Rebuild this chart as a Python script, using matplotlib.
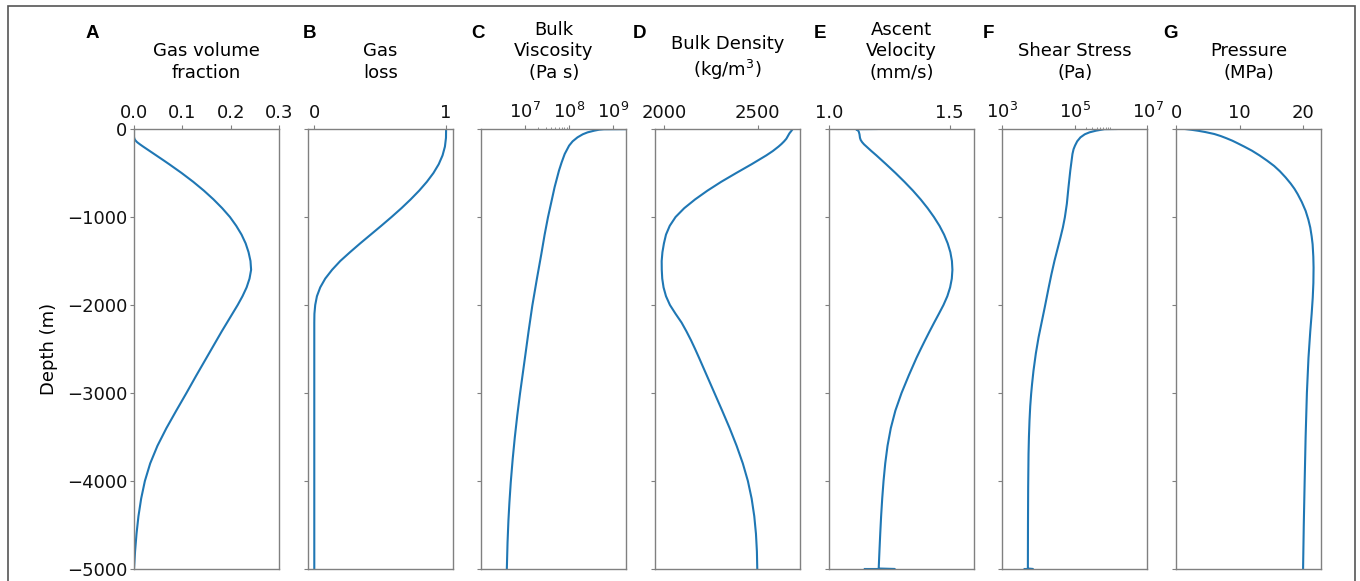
import matplotlib
matplotlib.use("Agg")
import matplotlib.pyplot as plt
import numpy as np
from matplotlib.patches import Rectangle

LINE_COLOR = "#1f77b4"
SPINE_COLOR = "#808080"
FONT_SIZE = 13

# ---- data (depth in m) ----
gas_depth = [0, -90, -110, -130, -150, -175, -200, -250, -300, -350, -400, -500, -600,
             -700, -800, -900, -1000, -1100, -1200, -1300, -1400, -1500, -1600,
             -1700, -1800, -1900, -2000, -2100, -2200, -2300, -2400, -2600, -2800,
             -3000, -3200, -3400, -3600, -3800, -4000, -4200, -4400, -4600, -4800, -5000]
gas_fraction = [0.0, 0.0, 0.0008, 0.003, 0.0065, 0.0125, 0.019, 0.0325, 0.046, 0.0595, 0.0728,
                0.0985, 0.1225, 0.1445, 0.1645, 0.1825, 0.1985, 0.2115, 0.2225, 0.231, 0.237,
                0.241, 0.2423, 0.239, 0.233, 0.2245, 0.2145, 0.2035, 0.1925, 0.1815, 0.171,
                0.150, 0.129, 0.1085, 0.0875, 0.067, 0.0485, 0.0335, 0.0225, 0.0148, 0.0092,
                0.0052, 0.0022, 0.0]

loss_depth = [0, -100, -200, -300, -400, -500, -600, -700, -800, -900, -1000, -1100,
              -1200, -1300, -1400, -1500, -1600, -1700, -1800, -1900, -2000, -2100,
              -2200, -5000]
gas_loss = [1.0, 0.999, 0.991, 0.973, 0.944, 0.904, 0.854, 0.796, 0.731, 0.661, 0.586, 0.508,
            0.428, 0.348, 0.271, 0.197, 0.135, 0.083, 0.045, 0.020, 0.007, 0.001,
            0.0, 0.0]

visc_depth = [0, -3, -8, -19, -38, -60, -95, -140, -189, -284, -380, -473, -663, -800,
              -1004, -1200, -1420, -1700, -2008, -2300, -2557, -3011, -3250, -3504,
              -3750, -4015, -4250, -4451, -4700, -5000]
log_viscosity = [10.0, 8.8, 8.69, 8.58, 8.43, 8.32, 8.20, 8.09, 8.01, 7.91, 7.84, 7.78,
                 7.68, 7.62, 7.53, 7.455, 7.38, 7.28, 7.175, 7.09, 7.02, 6.895, 6.835,
                 6.778, 6.73, 6.686, 6.655, 6.633, 6.613, 6.597]

dens_depth = [0, -20, -50, -80, -110, -140, -170, -200, -250, -300, -350, -400, -500,
              -600, -700, -800, -900, -1000, -1100, -1200, -1300, -1400, -1500, -1600,
              -1700, -1800, -1900, -2000, -2100, -2200, -2300, -2400, -2500, -2600,
              -2800, -3000, -3200, -3400, -3600, -3800, -4000, -4200, -4400, -4600,
              -4800, -5000]
density = [2686, 2679, 2668, 2660, 2652, 2640, 2626, 2610, 2580, 2545, 2506, 2467, 2385,
           2305, 2232, 2166, 2108, 2062, 2031, 2011, 2000, 1992, 1988, 1988.5,
           1991, 1998, 2011, 2032, 2062, 2094, 2120, 2144, 2166, 2187,
           2228, 2269, 2310, 2350, 2387, 2420, 2447, 2467, 2481, 2490,
           2495, 2497]

vel_depth = [0, -2, -15, -30, -60, -100, -125, -150, -175, -200, -250, -300, -400, -500,
             -600, -700, -800, -900, -1000, -1100, -1200, -1300, -1400, -1500, -1600,
             -1700, -1800, -1900, -2000, -2100, -2200, -2300, -2400, -2500, -2600,
             -2800, -3000, -3200, -3400, -3600, -3800, -4000, -4200, -4400, -4600,
             -4800, -4995, -5000, -5000]
velocity = [1.197, 1.112, 1.120, 1.124, 1.127, 1.129, 1.132, 1.138, 1.146, 1.156, 1.176,
            1.197, 1.237, 1.276, 1.313, 1.348, 1.380, 1.409, 1.435, 1.458, 1.477, 1.492,
            1.503, 1.5095, 1.5115, 1.509, 1.502, 1.4905, 1.4745, 1.4555, 1.436, 1.417,
            1.3985, 1.3805, 1.363, 1.331, 1.301, 1.2755, 1.2565, 1.243, 1.2335, 1.2265,
            1.221, 1.2165, 1.2128, 1.2095, 1.2065, 1.273, 1.149]

shear_depth = [0, -2, -19, -38, -60, -95, -140, -189, -230, -284, -473, -663, -850,
               -1004, -1120, -1231, -1360, -1496, -1650, -1799, -2027, -2367, -2550,
               -2746, -2900, -3011, -3150, -3314, -3500, -3693, -4072, -4500, -4995,
               -5000, -5000]
log_shear = [6.14, 5.81, 5.58, 5.40, 5.27, 5.15, 5.06, 5.00, 4.96, 4.93, 4.87, 4.82, 4.775,
             4.72, 4.665, 4.60, 4.52, 4.435, 4.35, 4.275, 4.165, 3.995, 3.92,
             3.855, 3.815, 3.79, 3.765, 3.745, 3.729, 3.718, 3.708, 3.703, 3.70,
             3.84, 3.61]

pres_depth = [0, -10, -20, -35, -57, -80, -105, -132, -160, -200, -246, -300, -360, -420,
              -480, -550, -620, -680, -740, -830, -930, -1030, -1120, -1220, -1310,
              -1450, -1575, -1750, -1916, -2100, -2300, -2600, -3000, -3500, -4000,
              -4500, -5000]
pressure = [1.4, 2.5, 3.45, 4.6, 6.0, 7.0, 7.9, 8.8, 9.6, 10.7, 11.9, 13.1, 14.3, 15.4,
            16.3, 17.2, 18.0, 18.6, 19.1, 19.75, 20.35, 20.78, 21.08, 21.3, 21.45,
            21.56, 21.6, 21.57, 21.47, 21.3, 21.08, 20.8, 20.55, 20.35, 20.2,
            20.06, 19.95]

panel_letters = ["A", "B", "C", "D", "E", "F", "G"]
panel_titles = ["Gas volume\nfraction", "Gas\nloss", "Bulk\nViscosity\n(Pa s)",
                "Bulk Density\n(kg/m$^3$)", "Ascent\nVelocity\n(mm/s)",
                "Shear Stress\n(Pa)", "Pressure\n(MPa)"]
depth_ticks = [0, -1000, -2000, -3000, -4000, -5000]

W, H = 1360, 581
fig = plt.figure(figsize=(W / 100, H / 100), dpi=100)
plt.rcParams["font.family"] = "DejaVu Sans"

ax_left0 = 134 / W
ax_step = 173.7 / W
ax_w = 145 / W
ax_bottom = 1 - 569 / H
ax_h = (569 - 129) / H
title_y = (569 - 90) / (569 - 129)
letter_x = [92, 310, 478, 639, 820, 988, 1170]

series = [
    (gas_fraction, gas_depth),
    (gas_loss, loss_depth),
    (10 ** np.array(log_viscosity), visc_depth),
    (density, dens_depth),
    (velocity, vel_depth),
    (10 ** np.array(log_shear), shear_depth),
    (pressure, pres_depth),
]

axes = []
for i, (xv, yv) in enumerate(series):
    ax = fig.add_axes([ax_left0 + i * ax_step, ax_bottom, ax_w, ax_h])
    axes.append(ax)
    ax.plot(xv, yv, color=LINE_COLOR, lw=1.5)
    ax.set_ylim(-5000, 0)
    ax.set_yticks(depth_ticks)
    ax.xaxis.tick_top()
    for sp in ax.spines.values():
        sp.set_color(SPINE_COLOR)
        sp.set_linewidth(1.0)
    ax.tick_params(which="both", direction="out", color=SPINE_COLOR,
                   labelsize=FONT_SIZE, labelcolor="#111111")
    ax.tick_params(which="major", length=3, pad=2)
    ax.tick_params(which="minor", length=1.8)
    if i > 0:
        ax.tick_params(labelleft=False)
    ax.set_title(panel_titles[i], fontsize=FONT_SIZE, y=title_y, va="bottom",
                 linespacing=1.25)
    fig.text(letter_x[i] / W, 1 - 33 / H, panel_letters[i], fontsize=13.5,
             fontweight="bold", family="Liberation Sans", ha="center", va="center")

axes[0].set_ylabel("Depth (m)", fontsize=FONT_SIZE, labelpad=6)
axes[0].set_xlim(0, 0.3)
axes[0].set_xticks([0.0, 0.1, 0.2, 0.3])
axes[0].set_xticklabels(["0.0", "0.1", "0.2", "0.3"])

axes[1].set_xlim(-0.05, 1.05)
axes[1].set_xticks([0, 1])

axes[2].set_xscale("log")
axes[2].set_xlim(10 ** 6.02, 10 ** 9.31)
axes[2].set_xticks([1e7, 1e8, 1e9])
axes[2].set_xticks([k * 1e7 for k in range(2, 10)], minor=True)
axes[2].tick_params(which="minor", labeltop=False)

axes[3].set_xlim(1953, 2725)
axes[3].set_xticks([2000, 2500])

axes[4].set_xlim(1.0, 1.6)
axes[4].set_xticks([1.0, 1.5])

axes[5].set_xscale("log")
axes[5].set_xlim(1e3, 1e7)
axes[5].set_xticks([1e3, 1e5, 1e7])
axes[5].set_xticks([k * 1e5 for k in range(2, 10)], minor=True)
axes[5].tick_params(which="minor", labeltop=False)

axes[6].set_xlim(0, 22.8)
axes[6].set_xticks([0, 10, 20])

# outer frame of the figure (bottom edge falls outside the image)
fig.patches.append(Rectangle((7.5 / W, -0.05), (1355 - 7.5) / W, 1 - 6 / H + 0.05,
                             transform=fig.transFigure, fill=False,
                             edgecolor="#555555", lw=1.2))

fig.savefig("out.png", dpi=100)
